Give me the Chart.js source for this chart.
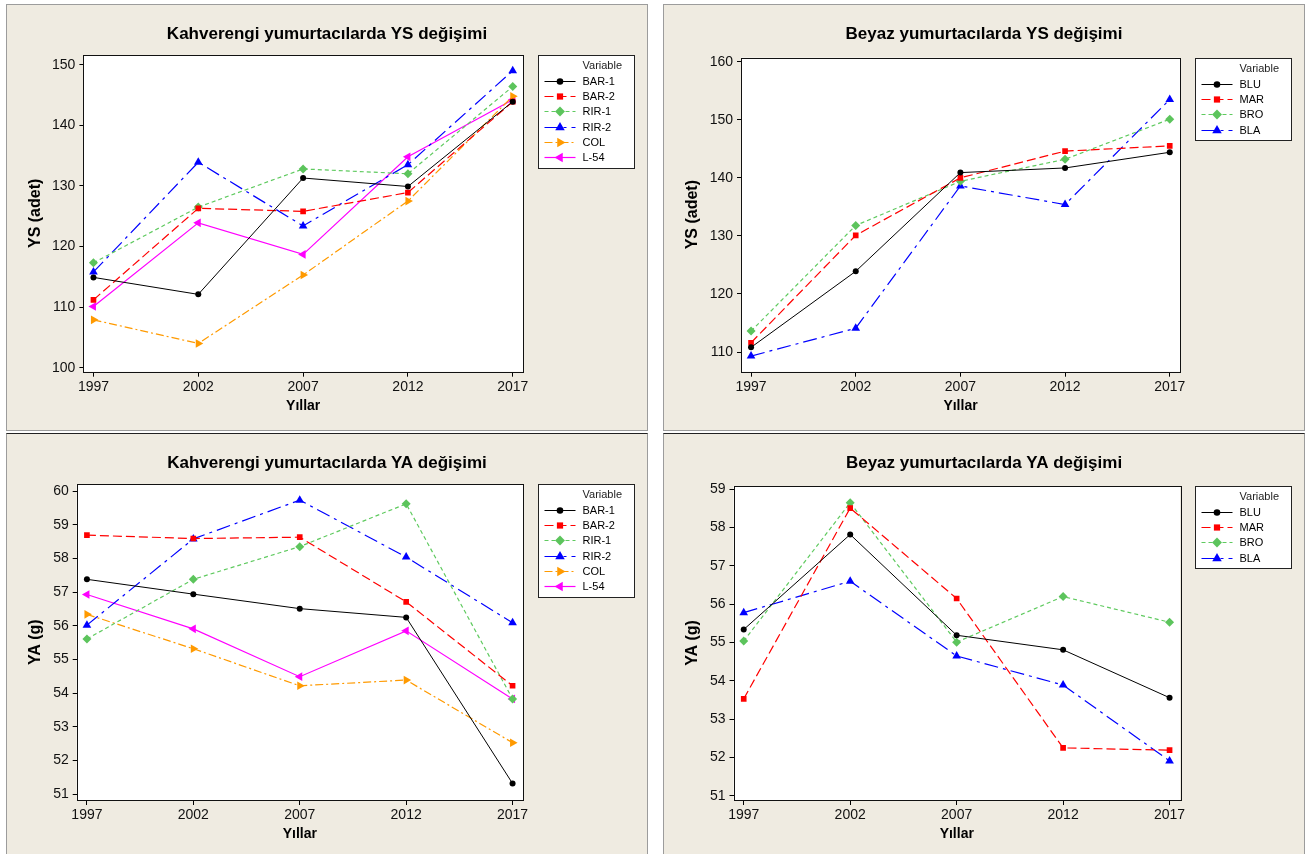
<!DOCTYPE html>
<html>
<head>
<meta charset="utf-8">
<script src="https://cdn.jsdelivr.net/npm/chart.js"></script>
<style>
  body { margin: 0; background: #fff; width: 1313px; height: 854px; overflow: hidden; position: relative; }
  .panel { position: absolute; background: #efebe1; border: 1px solid #9c9c9c; box-sizing: border-box; }
  .low { border-top-color: #222; }
  canvas { position: absolute; }
</style>
</head>
<body>
<div class="panel" style="left:6px;top:4px;width:642px;height:427px"></div>
<div class="panel" style="left:663px;top:4px;width:642px;height:427px"></div>
<div class="panel low" style="left:6px;top:433px;width:642px;height:430px"></div>
<div class="panel low" style="left:663px;top:433px;width:642px;height:430px"></div>
<canvas id="tl" width="640" height="425" style="left:7px;top:5px"></canvas>
<canvas id="tr" width="640" height="425" style="left:664px;top:5px"></canvas>
<canvas id="bl" width="640" height="420" style="left:7px;top:434px"></canvas>
<canvas id="br" width="640" height="420" style="left:664px;top:434px"></canvas>
<script>
// years on the x axis
const years = [1997, 2002, 2007, 2012, 2017];

// YS (adet), brown-egg layers
const ysBar1 = [114.9, 112.1, 131.3, 129.9, 143.9];
const ysBar2 = [111.2, 126.3, 125.8, 128.9, 143.9];
const ysRir1 = [117.3, 126.5, 132.8, 132.0, 146.4];
const ysRir2 = [115.8, 133.9, 123.4, 133.5, 149.0];
const ysCol  = [107.9, 104.0, 115.3, 127.5, 144.8];
const ysL54  = [110.1, 123.9, 118.7, 134.8, 144.2];

// YS (adet), white-egg layers
const ysBlu = [110.8, 123.9, 140.9, 141.7, 144.4];
const ysMar = [111.6, 130.1, 140.0, 144.6, 145.5];
const ysBro = [113.6, 131.8, 139.4, 143.2, 150.1];
const ysBla = [109.3, 114.1, 138.6, 135.4, 153.5];

// YA (g), brown-egg layers
const yaBar1 = [57.38, 56.94, 56.51, 56.25, 51.32];
const yaBar2 = [58.69, 58.59, 58.63, 56.71, 54.22];
const yaRir1 = [55.61, 57.38, 58.35, 59.62, 53.83];
const yaRir2 = [56.02, 58.58, 59.73, 58.04, 56.09];
const yaCol  = [56.34, 55.32, 54.22, 54.39, 52.53];
const yaL54  = [56.93, 55.91, 54.49, 55.85, 53.83];

// YA (g), white-egg layers
const yaBlu = [55.34, 57.82, 55.19, 54.81, 53.56];
const yaMar = [53.53, 58.51, 56.15, 52.25, 52.19];
const yaBro = [55.04, 58.65, 55.01, 56.20, 55.53];
const yaBla = [55.78, 56.60, 54.65, 53.89, 51.91];

// tick labels
const ysBrownTicks = [100, 110, 120, 130, 140, 150];
const ysWhiteTicks = [110, 120, 130, 140, 150, 160];
const yaBrownTicks = [51, 52, 53, 54, 55, 56, 57, 58, 59, 60];
const yaWhiteTicks = [51, 52, 53, 54, 55, 56, 57, 58, 59];

const styles = {
  black:   { borderColor: '#000000', pointBackgroundColor: '#000000', borderWidth: 1, borderDash: [], pointStyle: 'circle', pointRadius: 3 },
  red:     { borderColor: '#ff0000', pointBackgroundColor: '#ff0000', borderWidth: 1.2, borderDash: [9, 4], pointStyle: 'rect', pointRadius: 4 },
  green:   { borderColor: '#5fca5f', pointBackgroundColor: '#5cc45c', borderWidth: 1.2, borderDash: [4, 3], pointStyle: 'rectRot', pointRadius: 4.5 },
  blue:    { borderColor: '#0000ff', pointBackgroundColor: '#0000ff', borderWidth: 1.2, borderDash: [14, 5, 3, 5], pointStyle: 'triangle', pointRadius: 5 },
  orange:  { borderColor: '#ff9a00', pointBackgroundColor: '#ff9a00', borderWidth: 1.2, borderDash: [8, 3, 2, 3], pointStyle: 'triangle', pointRadius: 5, pointRotation: 90 },
  magenta: { borderColor: '#ff00ff', pointBackgroundColor: '#ff00ff', borderWidth: 1.2, borderDash: [], pointStyle: 'triangle', pointRadius: 5, pointRotation: -90 }
};

function series(label, values, style) {
  const s = styles[style];
  return Object.assign({
    label,
    data: values.map((v, i) => ({ x: years[i], y: v })),
    pointBorderColor: s.pointBackgroundColor,
    pointBorderWidth: 0,
    pointHoverRadius: s.pointRadius,
    tension: 0
  }, s);
}

const tickFont = { family: "'Liberation Sans'", size: 14 };

// white plot region, black frame, and the title centred over the whole panel
const frame = {
  id: 'frame',
  beforeDraw(chart) {
    const a = chart.chartArea, ctx = chart.ctx;
    ctx.save();
    ctx.fillStyle = '#fff';
    ctx.fillRect(a.left, a.top, a.width, a.height);
    ctx.restore();
  },
  afterDatasetsDraw(chart, args, opts) {
    const a = chart.chartArea, ctx = chart.ctx;
    ctx.save();
    ctx.strokeStyle = '#111';
    ctx.lineWidth = 1;
    ctx.strokeRect(Math.round(a.left) + 0.5, Math.round(a.top) + 0.5, Math.round(a.width), Math.round(a.height));
    ctx.fillStyle = '#000';
    ctx.font = 'bold 17px "Liberation Sans"';
    ctx.textAlign = 'center';
    ctx.textBaseline = 'middle';
    ctx.fillText(opts.text, chart.width / 2, opts.y);
    ctx.restore();
  }
};

const boxLegend = {
  id: 'boxLegend',
  afterDraw(chart) {
    const a = chart.chartArea, ctx = chart.ctx;
    const sets = chart.data.datasets;
    const x0 = Math.round(a.right + 15) + 0.5, y0 = Math.round(a.top) + 0.5;
    const w = 96, h = 25.5 + (sets.length - 1) * 15.2 + 11;
    ctx.save();
    ctx.fillStyle = '#fff';
    ctx.fillRect(x0, y0, w, h);
    ctx.strokeStyle = '#222';
    ctx.lineWidth = 1;
    ctx.strokeRect(x0, y0, w, Math.round(h));
    ctx.font = '11px "Liberation Sans"';
    ctx.textBaseline = 'middle';
    ctx.fillStyle = '#222';
    ctx.fillText('Variable', x0 + 44, y0 + 10);
    sets.forEach((ds, i) => {
      const y = Math.round(y0 + 25.5 + i * 15.2) + 0.5;
      ctx.strokeStyle = ds.borderColor;
      ctx.lineWidth = ds.borderWidth;
      ctx.setLineDash(ds.borderDash);
      ctx.beginPath();
      ctx.moveTo(x0 + 6, y);
      ctx.lineTo(x0 + 37, y);
      ctx.stroke();
      ctx.setLineDash([]);
      ctx.fillStyle = ds.pointBackgroundColor;
      ctx.strokeStyle = ds.pointBackgroundColor;
      Chart.helpers.drawPoint(ctx, {
        pointStyle: ds.pointStyle,
        rotation: ds.pointRotation || 0,
        radius: ds.pointRadius * 1.1,
        borderWidth: 0
      }, x0 + 21.5, y);
      ctx.fillStyle = '#000';
      ctx.fillText(ds.label, x0 + 44, y);
    });
    ctx.restore();
  }
};

function panel(id, p) {
  new Chart(document.getElementById(id), {
    type: 'line',
    data: { datasets: p.datasets },
    options: {
      responsive: false,
      animation: false,
      devicePixelRatio: 1,
      layout: { padding: { left: 0, top: p.plotTop, right: 124, bottom: 0 } },
      plugins: {
        legend: { display: false },
        tooltip: { enabled: false },
        title: { display: false },
        frame: { text: p.title, y: p.titleY }
      },
      scales: {
        x: {
          type: 'linear',
          min: 1996.52,
          max: 2017.49,
          afterBuildTicks: s => { s.ticks = years.map(v => ({ value: v })); },
          afterFit: s => { s.height = p.xHeight; },
          ticks: { color: '#111', font: tickFont, padding: 2, maxRotation: 0, autoSkip: false, callback: v => String(v) },
          grid: { drawOnChartArea: false, drawTicks: true, tickLength: 5, color: '#000' },
          border: { display: false },
          title: {
            display: true,
            text: 'Yıllar',
            color: '#000',
            font: { family: "'Liberation Sans'", size: 14, weight: 'bold' },
            padding: { top: 0, bottom: p.xTitleBottom }
          }
        },
        y: {
          min: p.yMin,
          max: p.yMax,
          afterBuildTicks: s => { s.ticks = p.yTicks.map(v => ({ value: v })); },
          afterFit: s => { s.width = p.yWidth; },
          ticks: { color: '#111', font: tickFont, padding: 4, autoSkip: false },
          grid: { drawOnChartArea: false, drawTicks: true, tickLength: 4, color: '#000' },
          border: { display: false },
          title: {
            display: true,
            text: p.yTitle,
            color: '#000',
            font: { family: "'Liberation Sans'", size: 16, weight: 'bold' },
            padding: { top: 19.2, bottom: 0 }
          }
        }
      }
    },
    plugins: [frame, boxLegend]
  });
}

panel('tl', {
  title: 'Kahverengi yumurtacılarda YS değişimi',
  yTitle: 'YS (adet)',
  yMin: 99.34, yMax: 151.6, yTicks: ysBrownTicks,
  titleY: 29.5, plotTop: 50, yWidth: 76.4, xHeight: 58.3, xTitleBottom: 15.6,
  datasets: [
    series('BAR-1', ysBar1, 'black'),
    series('BAR-2', ysBar2, 'red'),
    series('RIR-1', ysRir1, 'green'),
    series('RIR-2', ysRir2, 'blue'),
    series('COL', ysCol, 'orange'),
    series('L-54', ysL54, 'magenta')
  ]
});

panel('tr', {
  title: 'Beyaz yumurtacılarda YS değişimi',
  yTitle: 'YS (adet)',
  yMin: 106.61, yMax: 160.69, yTicks: ysWhiteTicks,
  titleY: 29.5, plotTop: 52.7, yWidth: 77, xHeight: 58.3, xTitleBottom: 15.6,
  datasets: [
    series('BLU', ysBlu, 'black'),
    series('MAR', ysMar, 'red'),
    series('BRO', ysBro, 'green'),
    series('BLA', ysBla, 'blue')
  ]
});

panel('bl', {
  title: 'Kahverengi yumurtacılarda YA değişimi',
  yTitle: 'YA (g)',
  yMin: 50.83, yMax: 60.2, yTicks: yaBrownTicks,
  titleY: 29, plotTop: 50.3, yWidth: 69.7, xHeight: 54, xTitleBottom: 11.3,
  datasets: [
    series('BAR-1', yaBar1, 'black'),
    series('BAR-2', yaBar2, 'red'),
    series('RIR-1', yaRir1, 'green'),
    series('RIR-2', yaRir2, 'blue'),
    series('COL', yaCol, 'orange'),
    series('L-54', yaL54, 'magenta')
  ]
});

panel('br', {
  title: 'Beyaz yumurtacılarda YA değişimi',
  yTitle: 'YA (g)',
  yMin: 50.89, yMax: 59.086, yTicks: yaWhiteTicks,
  titleY: 29, plotTop: 52, yWidth: 69.5, xHeight: 54, xTitleBottom: 11.3,
  datasets: [
    series('BLU', yaBlu, 'black'),
    series('MAR', yaMar, 'red'),
    series('BRO', yaBro, 'green'),
    series('BLA', yaBla, 'blue')
  ]
});
</script>
</body>
</html>
